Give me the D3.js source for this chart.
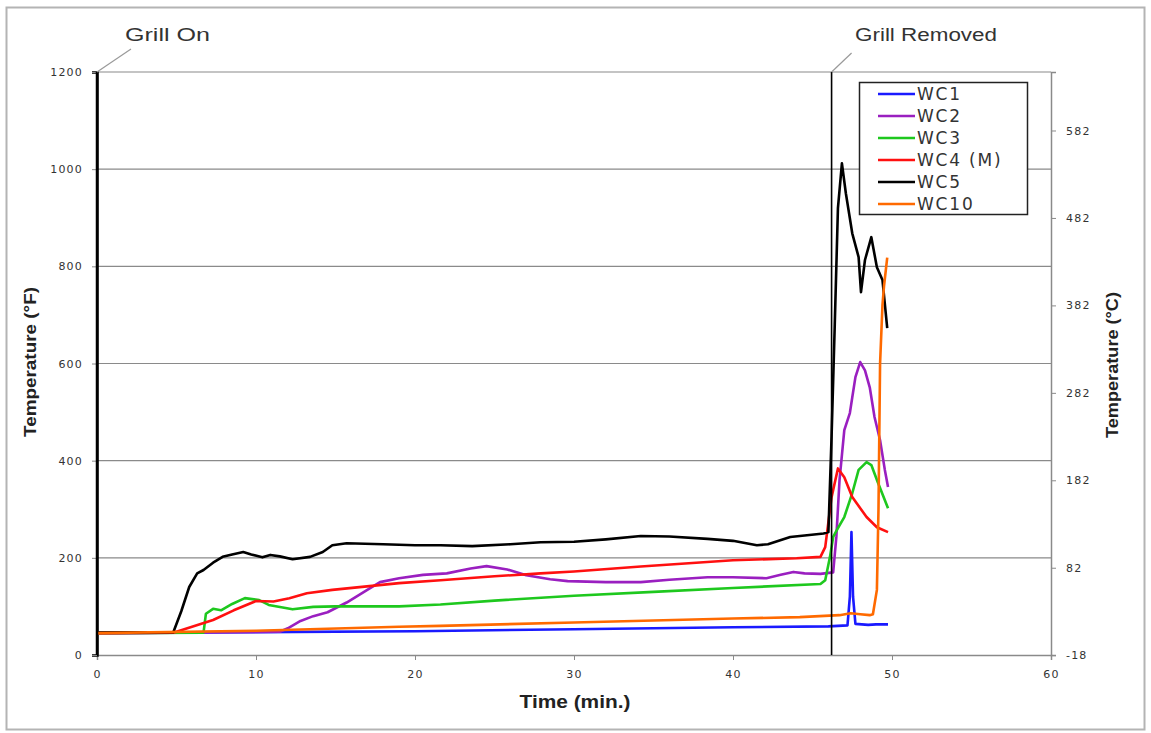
<!DOCTYPE html>
<html>
<head>
<meta charset="utf-8">
<script src="https://cdn.jsdelivr.net/npm/d3@7"></script>
<style>
  html, body { margin: 0; padding: 0; background: #fff; }
  svg { display: block; }
</style>
</head>
<body>
<svg id="chart" width="1151" height="733"></svg>
<script>
// ---------- DATA ----------
const seriesNames = ["WC1", "WC2", "WC3", "WC4 (M)", "WC5", "WC10"];
const seriesColors = ["#1a1aff", "#9a1fc0", "#1ec81e", "#ff1010", "#000000", "#ff6a00"];

const wc1 = [[0,45],[10,47],[20,49],[30,53],[40,57],[46,59],[47.2,61],[47.35,120],[47.45,253],[47.55,120],[47.7,64],[48.5,62],[49,63],[49.75,63]];
const wc2 = [[0,45],[11.5,48],[12,55],[12.8,70],[13.6,80],[14.5,88],[15.7,108],[17,134],[17.8,150],[19,158],[20.5,165],[22,168],[23.5,178],[24.5,183],[25.8,176],[27,164],[28.5,156],[29.6,152],[32,150],[34.2,150],[36,155],[38.4,160],[40,160],[42.1,158],[43,165],[43.8,171],[44.5,168],[45.5,167],[46.3,170],[46.5,243],[46.7,360],[47.0,463],[47.35,498],[47.5,530],[47.7,572],[48.0,603],[48.3,586],[48.6,551],[48.9,490],[49.25,442],[49.55,381],[49.75,346]];
const wc3 = [[0,45],[6.7,46],[6.85,85],[7.3,95],[7.8,92],[8.5,105],[9.3,117],[10.2,113],[10.8,103],[12.3,94],[13.6,99],[15,100],[17,100],[19,100],[21.6,104],[25,112],[30,122],[35,130],[40,138],[45.5,146],[45.8,154],[46.1,202],[46.3,243],[46.6,261],[47.0,284],[47.5,333],[47.9,381],[48.4,397],[48.7,391],[49.1,356],[49.75,302]];
const wc4 = [[0,45],[4.8,46],[7.3,72],[8.6,92],[10,111],[11.1,110],[12.1,117],[13.2,127],[14.8,134],[19,148],[21.6,154],[25,162],[27.9,168],[30,172],[34.2,182],[40,195],[44,199],[45.5,202],[45.8,222],[46.2,325],[46.6,384],[47.0,366],[47.5,325],[48.4,284],[49.05,263],[49.75,253]];
const wc5 = [[0,46],[4.8,47],[5.3,90],[5.8,140],[6.3,168],[6.7,175],[7.3,190],[7.9,202],[8.5,207],[9.2,212],[9.7,207],[10.4,201],[10.9,206],[11.5,203],[12.3,197],[13.4,202],[14.2,212],[14.8,226],[15.7,230],[18,228],[20,226],[21.6,226],[23.6,224],[26,228],[27.9,232],[30,233],[32,238],[34.2,245],[36,244],[38.4,239],[40,235],[41.5,226],[42.2,228],[43.6,243],[45.7,250],[46.0,253],[46.2,450],[46.4,680],[46.6,920],[46.85,1012],[47.1,950],[47.5,868],[47.9,819],[48.05,747],[48.3,813],[48.7,860],[49.05,798],[49.4,772],[49.7,673]];
const wc10 = [[0,45],[10,50],[19,58],[21.6,60],[30,67],[40,75],[44.2,78],[46.7,82],[47.4,86],[48.0,84],[48.6,82],[48.8,84],[49.05,134],[49.15,300],[49.25,600],[49.4,720],[49.5,760],[49.7,818]];
const allSeries = [wc1, wc2, wc3, wc4, wc5, wc10];

const xTicks = [0, 10, 20, 30, 40, 50, 60];
const yTicksF = [0, 200, 400, 600, 800, 1000, 1200];
const yTicksC = [-18, 82, 182, 282, 382, 482, 582];
const grillOnTime = 0;
const grillRemovedTime = 46.2;

// ---------- CHART ----------
const svg = d3.select("#chart");
const mLeft = 97, mRight = 1051, mTop = 72, mBottom = 655;

const x = d3.scaleLinear().domain([0, 60]).range([mLeft, mRight]);
const y = d3.scaleLinear().domain([0, 1200]).range([mBottom, mTop]);
const yC = d3.scaleLinear().domain([(0 - 32) * 5 / 9, (1200 - 32) * 5 / 9]).range([mBottom, mTop]);

// outer frame
svg.append("rect").attr("x", 6.5).attr("y", 7.5).attr("width", 1138).attr("height", 722)
  .attr("fill", "#fff").attr("stroke", "#b4b4b4").attr("stroke-width", 2);

// gridlines
svg.append("g").selectAll("line").data(yTicksF.filter(d => d > 0)).join("line")
  .attr("x1", mLeft).attr("x2", mRight)
  .attr("y1", d => y(d)).attr("y2", d => y(d))
  .attr("stroke", "#8a8a8a").attr("stroke-width", 1.2);

const tickFont = sel => sel.attr("font-family", "DejaVu Sans").attr("font-size", 11)
  .attr("letter-spacing", 1.2).attr("fill", "#333");

// right border / axis
const rightAxis = d3.axisRight(yC).tickValues(yTicksC).tickSize(5).tickFormat(d => d);
const gR = svg.append("g").attr("transform", `translate(${mRight},0)`).call(rightAxis);
gR.select(".domain").attr("stroke", "#8a8a8a").attr("stroke-width", 1.5);
gR.selectAll(".tick line").attr("stroke", "#8a8a8a");
gR.selectAll(".tick text").attr("x", 15).call(tickFont);

// bottom axis
const bottomAxis = d3.axisBottom(x).tickValues(xTicks).tickSize(5).tickFormat(d => d);
const gB = svg.append("g").attr("transform", `translate(0,${mBottom})`).call(bottomAxis);
gB.select(".domain").attr("stroke", "#8a8a8a").attr("stroke-width", 1.5);
gB.selectAll(".tick line").attr("stroke", "#8a8a8a");
gB.selectAll(".tick text").attr("y", 15).call(tickFont);

// left axis
const leftAxis = d3.axisLeft(y).tickValues(yTicksF).tickSize(5).tickFormat(d => d);
const gL = svg.append("g").attr("transform", `translate(${mLeft},0)`).call(leftAxis);
gL.select(".domain").attr("stroke", "#000").attr("stroke-width", 2.5);
gL.selectAll(".tick line").attr("stroke", "#8a8a8a");
gL.selectAll(".tick text").attr("x", -14).call(tickFont);

// series lines
const line = d3.line().x(d => x(d[0])).y(d => y(d[1])).curve(d3.curveLinear);
svg.append("g").selectAll("path").data(allSeries).join("path")
  .attr("d", d => line(d))
  .attr("fill", "none")
  .attr("stroke", (d, i) => seriesColors[i])
  .attr("stroke-width", 2.6)
  .attr("stroke-linejoin", "round");

// event lines
svg.append("line").attr("x1", x(grillOnTime)).attr("x2", x(grillOnTime))
  .attr("y1", y(0)).attr("y2", y(1200)).attr("stroke", "#000").attr("stroke-width", 2.5);
svg.append("line").attr("x1", x(grillRemovedTime)).attr("x2", x(grillRemovedTime))
  .attr("y1", y(0)).attr("y2", y(1200)).attr("stroke", "#000").attr("stroke-width", 1.6);

// annotations
svg.append("line").attr("x1", x(grillOnTime)).attr("y1", y(1200)).attr("x2", x(grillOnTime) + 34).attr("y2", y(1200) - 23)
  .attr("stroke", "#9a9a9a").attr("stroke-width", 1.2);
svg.append("text").attr("x", 125).attr("y", 41).text("Grill On")
  .attr("font-family", "Liberation Sans").attr("font-size", 18).attr("fill", "#333")
  .attr("textLength", 85).attr("lengthAdjust", "spacingAndGlyphs");

svg.append("line").attr("x1", x(grillRemovedTime)).attr("y1", y(1200)).attr("x2", x(grillRemovedTime) + 20).attr("y2", y(1200) - 19)
  .attr("stroke", "#9a9a9a").attr("stroke-width", 1.2);
svg.append("text").attr("x", 855).attr("y", 41).text("Grill Removed")
  .attr("font-family", "Liberation Sans").attr("font-size", 18).attr("fill", "#333")
  .attr("textLength", 142).attr("lengthAdjust", "spacingAndGlyphs");

// axis titles
svg.append("text").attr("x", 575).attr("y", 708).attr("text-anchor", "middle").text("Time (min.)")
  .attr("font-family", "Liberation Sans").attr("font-weight", "bold").attr("font-size", 19).attr("fill", "#222")
  .attr("textLength", 111).attr("lengthAdjust", "spacingAndGlyphs");

svg.append("text").attr("transform", "translate(36,362) rotate(-90)").attr("text-anchor", "middle")
  .text("Temperature (°F)")
  .attr("font-family", "Liberation Sans").attr("font-weight", "bold").attr("font-size", 17).attr("fill", "#222")
  .attr("textLength", 150).attr("lengthAdjust", "spacingAndGlyphs");

svg.append("text").attr("transform", "translate(1118,365) rotate(-90)").attr("text-anchor", "middle")
  .text("Temperature (°C)")
  .attr("font-family", "Liberation Sans").attr("font-weight", "bold").attr("font-size", 17).attr("fill", "#222")
  .attr("textLength", 146).attr("lengthAdjust", "spacingAndGlyphs");

// legend
const lg = svg.append("g");
lg.append("rect").attr("x", 859.5).attr("y", 82.5).attr("width", 168).attr("height", 132)
  .attr("fill", "#fff").attr("stroke", "#222").attr("stroke-width", 1.5);
const rows = lg.selectAll("g.row").data(seriesNames).join("g").attr("class", "row")
  .attr("transform", (d, i) => `translate(0,${94 + i * 22})`);
rows.append("line").attr("x1", 878).attr("x2", 915).attr("y1", 0).attr("y2", 0)
  .attr("stroke", (d, i) => seriesColors[i]).attr("stroke-width", 2.6);
rows.append("text").attr("x", 917).attr("y", 6).text(d => d)
  .attr("font-family", "DejaVu Sans").attr("font-size", 17).attr("letter-spacing", 1.8).attr("fill", "#333");
</script>
</body>
</html>
